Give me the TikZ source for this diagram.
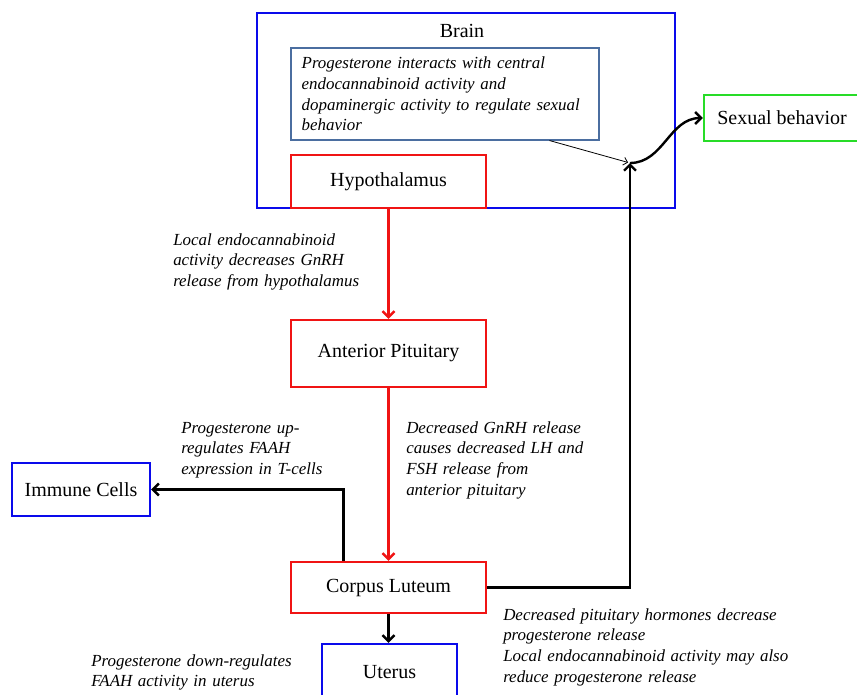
\documentclass[tikz,border=0pt]{standalone}
\usepackage{fontspec}
\setmainfont{Liberation Serif}
\usetikzlibrary{positioning,arrows.meta}

\definecolor{boxblue}{RGB}{10,10,235}
\definecolor{boxred}{RGB}{240,20,20}
\definecolor{boxgreen}{RGB}{40,220,40}
\definecolor{noteblue}{RGB}{75,110,160}

\begin{document}
\begin{tikzpicture}[x=0.75pt,y=-0.75pt,
    organ/.style={draw, line width=1.8pt, minimum width=146.25pt, font=\fontsize{15}{17}\selectfont},
    redbox/.style={organ, draw=boxred},
    bluebox/.style={organ, draw=boxblue},
    remark/.style={font=\fontsize{12.7}{15.5}\selectfont\itshape, align=left, inner sep=0pt, anchor=base west, text width=240pt},
    redarrow/.style={draw=boxred, line width=1.8pt, -{Straight Barb[length=4.5pt,width=9pt]}},
    blackarrow/.style={line width=1.8pt, -{Straight Barb[length=4.5pt,width=9pt]}}]
  \useasboundingbox (0,0) rectangle (857,694);

  % Brain region with its note
  \node[draw=boxblue, line width=1.8pt, minimum width=313.5pt, minimum height=146.25pt] (brain) at (466,110.5) {};
  \node[font=\fontsize{15}{17}\selectfont, anchor=base] (braintitle) at (462,37) {Brain};
  \node[draw=noteblue, line width=0.8pt, font=\fontsize{12.7}{15.5}\selectfont\itshape, align=left,
        text width=215pt, inner xsep=8pt, minimum height=69pt] (note) at (445,94)
    {Progesterone interacts with central\\endocannabinoid activity and\\dopaminergic activity to regulate sexual\\behavior};

  % Organs
  \node[redbox, minimum height=39.75pt] (hypo) at (388.5,181.5) {Hypothalamus};
  \node[redbox, minimum height=50.25pt] (pituitary) at (388.5,353.5) {Anterior Pituitary};
  \node[redbox, minimum height=38.25pt] (corpus) at (388.5,587.5) {Corpus Luteum};
  \node[bluebox, minimum width=101.25pt, minimum height=42pt] (uterus) at (389.5,672) {Uterus};
  \node[bluebox, minimum width=103.5pt, minimum height=39.75pt] (immune) at (81,489.5) {Immune Cells};
  \node[organ, draw=boxgreen, minimum width=117pt, minimum height=34.5pt] (sexual) at (782,118) {Sexual behavior};

  % Connectors
  \coordinate (junction) at (630,163);
  \draw[redarrow] (hypo) -- (pituitary);
  \draw[redarrow] (pituitary) -- (corpus);
  \draw[blackarrow] ([xshift=-33.75pt]corpus.north) |- (immune);
  \draw[blackarrow] (corpus) -- (corpus |- uterus.north);
  \draw[blackarrow] (corpus) -| (junction);
  \draw[blackarrow] (junction) to[out=0,in=180] (sexual);
  \draw[line width=0.6pt, -{Straight Barb[length=3pt,width=6pt]}, shorten >=1.5pt] (note.-24.5) -- (junction);

  % Remarks
  \node[remark] (gnrhnote) at (173,245) {Local endocannabinoid\\activity decreases GnRH\\release from hypothalamus};
  \node[remark] (lhnote) at (406,433) {Decreased GnRH release\\causes decreased LH and\\FSH release from\\anterior pituitary};
  \node[remark] (faahtnote) at (181,433) {Progesterone up-\\regulates FAAH\\expression in T-cells};
  \node[remark] (faahunote) at (91,666) {Progesterone down-regulates\\FAAH activity in uterus};
  \node[remark] (releasenote) at (503,620) {Decreased pituitary hormones decrease\\progesterone release\\Local endocannabinoid activity may also\\reduce progesterone release};
\end{tikzpicture}
\end{document}
